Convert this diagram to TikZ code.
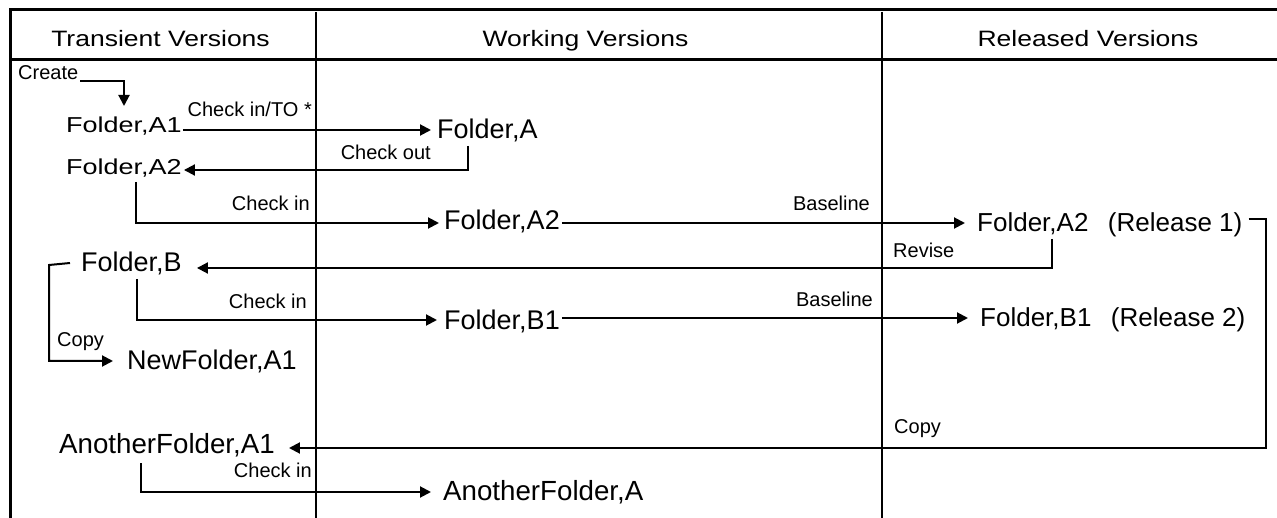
\documentclass[tikz,border=0pt]{standalone}
\usepackage{fontspec}
\setmainfont{Liberation Sans}
\usetikzlibrary{arrows.meta,calc}
\begin{document}
\begin{tikzpicture}[x=1pt,y=-1pt,
  big/.style={font=\fontsize{27}{30}\selectfont, inner sep=0pt, anchor=base west},
  bigger/.style={font=\fontsize{27.7}{30}\selectfont, inner sep=0pt, anchor=base west},
  rel/.style={font=\fontsize{26}{30}\selectfont, inner sep=0pt, anchor=base west},
  head/.style={font=\fontsize{26.5}{30}\selectfont, inner sep=0pt, anchor=base},
  small/.style={font=\fontsize{20}{24}\selectfont, inner sep=0pt},
  conn/.style={line width=2pt},
  arr/.style={conn,-{Triangle[length=11pt,width=11pt]}},
  hrule/.style={line width=3pt},
  vrule/.style={line width=2pt}]
\useasboundingbox (0,0) rectangle (1277,518);
% frame
\draw[hrule] (1277,10) -- (10,10) -- (10,518);
\draw[hrule] (10,60) -- (1277,60);
\draw[vrule] (316,12) -- (316,518);
\draw[vrule] (882,12) -- (882,518);
% headers
\node[head] (h1) at (160.5,47) {\scalebox{1}[0.84]{Transient Versions}};
\node[head] (h2) at (585.5,47) {\scalebox{1}[0.84]{Working Versions}};
\node[head] (h3) at (1088,47) {\scalebox{1}[0.84]{Released Versions}};
% main nodes
\node[big] (fa1) at (66,133) {\scalebox{1}[0.8]{Folder,A1}};
\node[big] (fa2) at (66,175) {\scalebox{1}[0.8]{Folder,A2}};
\node[big] (faw) at (437,139) {Folder,A};
\node[big] (fa2m) at (444,230) {Folder,A2};
\node[rel] (fr1) at (977,232) {Folder,A2\hspace{0.75em}(Release 1)};
\node[big] (fb) at (81,272) {Folder,B};
\node[big] (fb1m) at (444,330) {Folder,B1};
\node[rel] (fr2) at (980,327) {Folder,B1\hspace{0.75em}(Release 2)};
\node[big] (nf) at (127,370) {NewFolder,A1};
\node[bigger] (afa1) at (59,453) {AnotherFolder,A1};
\node[bigger] (afa) at (443,500) {AnotherFolder,A};
% labels
\node[small,anchor=base west] (lcreate) at (18,80) {Create};
\node[small,anchor=base east] (lcito) at (312,117) {Check in/TO *};
\node[small,anchor=base east] (lco) at (431,160) {Check out};
\node[small,anchor=base east] (lci1) at (310,211) {Check in};
\node[small,anchor=base east] (lbl1) at (870,211) {Baseline};
\node[small,anchor=base west] (lrev) at (893,258) {Revise};
\node[small,anchor=base east] (lci2) at (307,309) {Check in};
\node[small,anchor=base east] (lbl2) at (873,307) {Baseline};
\node[small,anchor=base west] (lcp1) at (57,347) {Copy};
\node[small,anchor=base west] (lcp2) at (894,433) {Copy};
\node[small,anchor=base east] (lci3) at (312,477) {Check in};
% connectors
\draw[arr] ($(lcreate.base east)+(2,1)$) -| ($(fa1.base west)+(58,-27)$);
\draw[arr] ($(fa1.base east)+(1,-3)$) -- ($(faw.base west)+(-6,-9)$);
\draw[arr] ($(faw.base west)+(31,7)$) |- ($(fa2.base east)+(2,-5)$);
\draw[arr] ($(fa2.base west)+(70,7)$) |- ($(fa2m.base west)+(-5,-7)$);
\draw[arr] ($(fa2m.base east)+(2,-7)$) -- ($(fr1.base west)+(-12,-9)$);
\draw[arr] ($(fr1.base west)+(75,7)$) |- ($(fb.base east)+(15,-4)$);
\draw[arr] ($(fb.base west)+(56,7)$) |- ($(fb1m.base west)+(-7,-10)$);
\draw[arr] ($(fb1m.base east)+(2,-12)$) -- ($(fr2.base west)+(-12,-9)$);
\draw[arr] ($(fb.base west)+(-11,-9)$) -- ++(-21,2) |- ($(nf.base west)+(-14,-9)$);
\draw[arr] ($(fr1.base east)+(6,-13)$) -- ++(17,0) |- ($(afa1.base east)+(14,-5)$);
\draw[arr] ($(afa1.base west)+(82,10)$) |- ($(afa.base west)+(-12,-8)$);
\end{tikzpicture}
\end{document}
